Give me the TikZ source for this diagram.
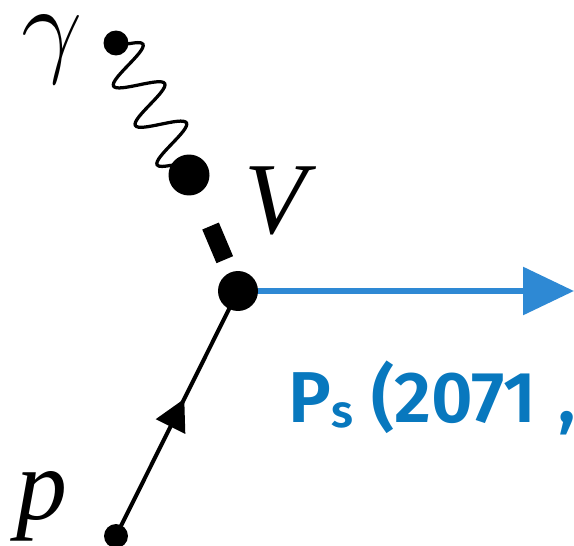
\documentclass[tikz,border=0pt]{standalone}
\usepackage{fix-cm}
\usepackage{fontspec}
\usepackage{xcolor}
\usetikzlibrary{arrows.meta, positioning, calc, decorations.pathmorphing, decorations.markings}
\newfontfamily\labfont{Liberation Serif}
\newfontfamily\psfont{Fira Sans}[BoldFont={Fira Sans SemiBold}]
\definecolor{psline}{RGB}{46,137,212}
\definecolor{pstext}{RGB}{8,120,190}

\begin{document}
\begin{tikzpicture}[
    x=0.02cm, y=0.02cm,
    dot/.style={circle, fill=black, inner sep=0pt, minimum size=#1},
    lab/.style={inner sep=0pt, font=\labfont\itshape\fontsize{58}{60}\selectfont},
    photon/.style={line width=0.065cm, decorate, decoration={snake, amplitude=0.46cm, segment length=0.9cm}},
    fermion/.style={line width=0.08cm, postaction={decorate}, decoration={markings, mark=at position 0.56 with {\arrow{Triangle[length=0.62cm, width=0.64cm]}}}},
    vbar/.style={line width=0.36cm},
    meson/.style={psline, line width=0.12cm, -{Triangle[length=1.02cm, width=0.94cm]}}
]
\useasboundingbox (0,0) rectangle (574,545);
\clip (0,0) rectangle (574,545);

% Vertices
\coordinate (g) at (116,502);
\coordinate (pv) at (189,370);
\coordinate (v) at (238,254);
\coordinate (pp) at (116,9);
\coordinate (psend) at (574,254);

% Lines
\draw [photon] (g) -- (pv);
\draw [vbar] ($(pv)!0.44!(v)$) -- ($(pv)!0.73!(v)$);
\draw [fermion] (pp) -- (v);
\draw [meson] (v) -- (psend);

% Dots
\node (gdot) [dot=0.5cm] at (g) {};
\node (pvdot) [dot=0.82cm] at (pv) {};
\node (vdot) [dot=0.8cm] at (v) {};
\node (pdot) [dot=0.48cm] at (pp) {};

% Labels
\node (gam) [lab, font=\fontsize{62}{64}\selectfont] at (52,495) {$\gamma$};
\node (vlab) [lab] at (276,344) {V};
\node (plab) [lab] at (42,39) {p};
\node (pslab) [anchor=base west, inner sep=0pt, text=pstext, font=\psfont\bfseries\fontsize{41}{44}\selectfont] at (288,123)
    {P{\fontsize{26}{26}\selectfont\raisebox{-0.12em}{s}}\hspace{0.25em}(2071\hspace{0.3em},};

\end{tikzpicture}
\end{document}
